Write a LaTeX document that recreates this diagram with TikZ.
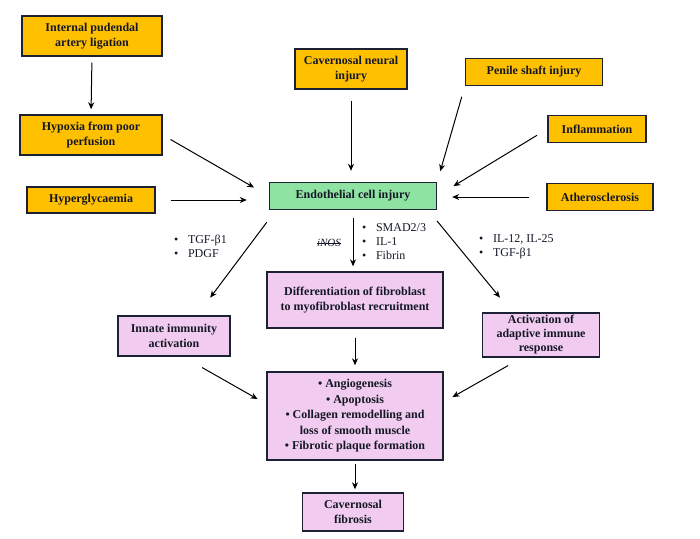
\documentclass[tikz,border=0pt]{standalone}
\usepackage{fontspec}
\setmainfont{Liberation Serif}
\usetikzlibrary{arrows.meta}

\definecolor{boxline}{HTML}{1C2233}
\definecolor{inktext}{HTML}{141826}
\definecolor{causefill}{HTML}{FFC000}
\definecolor{corefill}{HTML}{8EE3A2}
\definecolor{effectfill}{HTML}{F2CCF0}

\tikzset{
  box/.style={draw=boxline, line width=1.4pt, align=center, text=inktext,
    font=\fontsize{12}{15}\selectfont\bfseries, inner sep=2pt},
  cause/.style={box, fill=causefill},
  core/.style={box, fill=corefill},
  effect/.style={box, fill=effectfill},
  arr/.style={-{Stealth[length=7pt,width=6pt]}, line width=1pt},
  note/.style={align=left, anchor=west, inner sep=0pt, text=inktext,
    font=\fontsize{12}{14}\selectfont},
}

\begin{document}
\begin{tikzpicture}[x=1pt,y=-1pt]
  \useasboundingbox (0,0) rectangle (700,538);

  % causes
  \node[cause, minimum width=140pt, minimum height=40pt] (ipal) at (92,36) {Internal pudendal\\artery ligation};
  \node[cause, minimum width=142pt, minimum height=40pt] (hypoxia) at (91,135) {Hypoxia from poor\\perfusion};
  \node[cause, minimum width=128pt, minimum height=26pt] (hyperglyc) at (91,200) {Hyperglycaemia};
  \node[cause, minimum width=112pt, minimum height=40pt] (neural) at (351,69) {Cavernosal neural\\injury};
  \node[cause, minimum width=137pt, minimum height=27pt] (penile) at (534,72) {Penile shaft injury};
  \node[cause, minimum width=98pt, minimum height=27pt] (inflam) at (597,129) {Inflammation};
  \node[cause, minimum width=106pt, minimum height=27pt] (athero) at (600,197) {Atherosclerosis};

  % endothelium
  \node[core, minimum width=167pt, minimum height=27pt] (endo) at (353,196) {Endothelial cell injury};

  % downstream
  \node[effect, minimum width=176pt, minimum height=56pt] (diff) at (355,300) {Differentiation of fibroblast\\to myofibroblast recruitment};
  \node[effect, minimum width=112pt, minimum height=40pt] (innate) at (174,336) {Innate immunity\\activation};
  \node[effect, minimum width=117pt, minimum height=44pt, font=\fontsize{12}{14}\selectfont\bfseries] (adaptive) at (541,335) {Activation of\\adaptive immune\\response};
  \node[effect, minimum width=176pt, minimum height=88pt, font=\fontsize{12}{15.5}\selectfont\bfseries] (outcomes) at (355,416)
    {\textbullet\ Angiogenesis\\\textbullet\ Apoptosis\\\textbullet\ Collagen remodelling and\\loss of smooth muscle\\\textbullet\ Fibrotic plaque formation};
  \node[effect, minimum width=101pt, minimum height=38pt] (fibrosis) at (353,512) {Cavernosal\\fibrosis};

  % mediators
  \node[note] (medleft) at (174,246) {\textbullet\hspace{0.8em}TGF-β1\\\textbullet\hspace{0.8em}PDGF};
  \node[note] (medmid) at (362,242) {\textbullet\hspace{0.8em}SMAD2/3\\\textbullet\hspace{0.8em}IL-1\\\textbullet\hspace{0.8em}Fibrin};
  \node[note] (medright) at (479,247) {\textbullet\hspace{0.8em}IL-12, IL-25\\\textbullet\hspace{0.8em}TGF-β1};
  \node[note, anchor=center, font=\fontsize{11}{13}\selectfont\itshape] (inos) at (329,243) {iNOS};
  \draw[inktext, line width=0.5pt] ([yshift=-0.5pt]inos.west) -- ([yshift=-0.5pt]inos.east);

  % arrows into endothelium
  \draw[arr, shorten <=6pt, shorten >=5pt] (ipal.south) -- (hypoxia.north);
  \draw[arr, shorten <=9pt, shorten >=17pt] (hypoxia.east) -- (endo.west);
  \draw[arr, shorten <=15pt, shorten >=22pt] (hyperglyc.east) -- (hyperglyc.east -| endo.west);
  \draw[arr, shorten <=11pt, shorten >=11pt] (neural.south) -- (neural.south |- endo.north);
  \draw[arr, shorten <=11pt, shorten >=11pt] (penile.south west) -- (endo.north east);
  \draw[arr, shorten <=12pt, shorten >=19pt] (inflam.west) -- (endo.east);
  \draw[arr, shorten <=17pt, shorten >=15pt] (athero.west) -- (athero.west -| endo.east);

  % arrows out of endothelium
  \draw[arr, shorten <=8pt, shorten >=5pt] (endo.south) -- (endo.south |- diff.north);
  \draw[arr, shorten <=15pt, shorten >=22pt] ([xshift=7pt]endo.south west) -- ([xshift=23pt]innate.north);
  \draw[arr, shorten <=14pt, shorten >=19pt] ([xshift=-9pt]endo.south east) -- ([xshift=-29pt]adaptive.north);

  % arrows into outcomes
  \draw[arr, shorten <=9pt, shorten >=6pt] (diff.south) -- (outcomes.north);
  \draw[arr, shorten <=22pt, shorten >=10pt] ([xshift=9pt]innate.south) -- ([yshift=12pt]outcomes.west);
  \draw[arr, shorten <=16pt, shorten >=10pt] ([xshift=-19pt]adaptive.south) -- ([yshift=14pt]outcomes.east);
  \draw[arr, shorten <=3pt, shorten >=3pt] (outcomes.south) -- (outcomes.south |- fibrosis.north);
\end{tikzpicture}
\end{document}
